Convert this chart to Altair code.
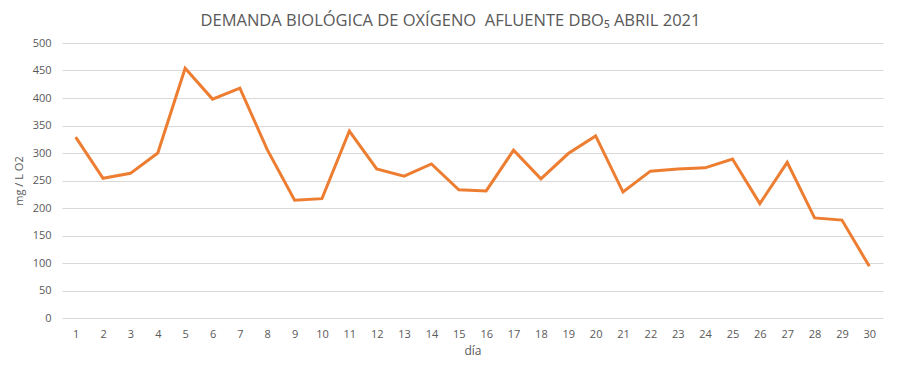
import altair as alt
import pandas as pd

days = [str(d) for d in range(1, 31)]
values = [329, 254, 263, 300, 454, 398, 418, 306, 214, 217,
          340, 271, 258, 280, 233, 231, 305, 253, 299, 331,
          229, 267, 271, 273, 289, 208, 283, 182, 178, 94]
y_ticks = [0, 50, 100, 150, 200, 250, 300, 350, 400, 450, 500]

df = pd.DataFrame({"dia": days, "valor": values})

FONT = "Open Sans"
GRAY = "#595959"

chart = alt.Chart(df).mark_line(color="#ED7D31", strokeWidth=3).encode(
    x=alt.X("dia:O", sort=days, title="día",
            scale=alt.Scale(type="point", padding=0.5),
            axis=alt.Axis(labelAngle=0, ticks=False, domain=False, grid=False,
                          labelPadding=10, titlePadding=6, labelFontSize=11,
                          titleFontSize=12, titleFontWeight="normal",
                          labelColor=GRAY, titleColor=GRAY,
                          labelFont=FONT, titleFont=FONT)),
    y=alt.Y("valor:Q", title="mg / L O2",
            scale=alt.Scale(domain=[0, 500], nice=False),
            axis=alt.Axis(values=y_ticks, ticks=False, domain=False,
                          grid=True, gridColor="#D9D9D9", gridWidth=1,
                          labelPadding=11, titlePadding=8, labelFontSize=11,
                          titleFontSize=11, titleFontWeight="normal",
                          labelColor=GRAY, titleColor=GRAY,
                          labelFont=FONT, titleFont=FONT)),
).properties(
    width=821,
    height=275,
    title=alt.TitleParams("DEMANDA BIOLÓGICA DE OXÍGENO \u00a0AFLUENTE DBO₅ ABRIL 2021",
                          font=FONT, fontSize=16.5, fontWeight="normal",
                          color=GRAY, offset=8, dx=-22, anchor="middle"),
    autosize=alt.AutoSizeParams(type="none"),
    padding={"left": 54, "top": 35, "right": 9, "bottom": 40},
).configure_view(stroke=None)

chart.save("out.html", embed_options={"renderer": "svg", "actions": False})
